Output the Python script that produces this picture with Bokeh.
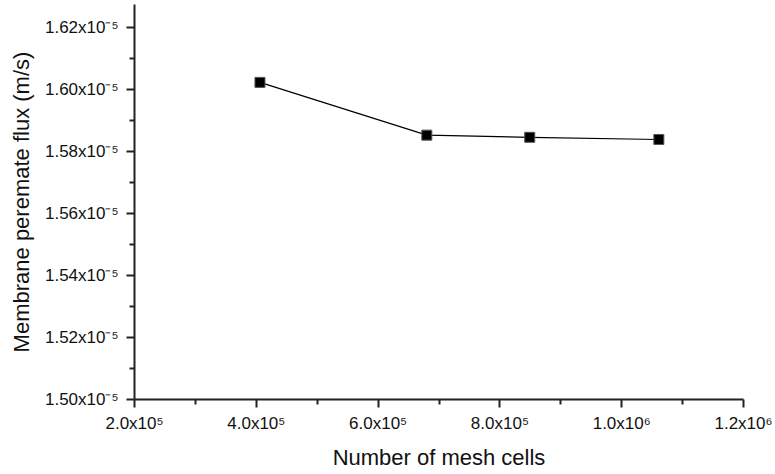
from bokeh.plotting import figure
from bokeh.models import Range1d, FixedTicker
from bokeh.embed import file_html
from bokeh.resources import INLINE

# ---- data ----
mesh_cells = [4.06e5, 6.80e5, 8.49e5, 1.061e6]
flux = [1.6022e-5, 1.5852e-5, 1.5845e-5, 1.5838e-5]

x_ticks = [2.0e5, 4.0e5, 6.0e5, 8.0e5, 1.0e6, 1.2e6]
x_tick_labels = ["2.0x10\u2075", "4.0x10\u2075", "6.0x10\u2075", "8.0x10\u2075",
                 "1.0x10\u2076", "1.2x10\u2076"]
y_ticks = [1.50e-5, 1.52e-5, 1.54e-5, 1.56e-5, 1.58e-5, 1.60e-5, 1.62e-5]
y_tick_labels = ["1.50x10\u207b\u2075", "1.52x10\u207b\u2075", "1.54x10\u207b\u2075",
                 "1.56x10\u207b\u2075", "1.58x10\u207b\u2075", "1.60x10\u207b\u2075",
                 "1.62x10\u207b\u2075"]

x_title = "Number of mesh cells"
y_title = "Membrane peremate flux (m/s)"

FONT = "Liberation Sans"

p = figure(width=775, height=474, output_backend="svg", toolbar_location=None,
           x_range=Range1d(2.0e5, 1.2e6), y_range=Range1d(1.50e-5, 1.6273e-5),
           min_border_left=134, min_border_right=32, min_border_top=4,
           min_border_bottom=75)
p.outline_line_color = None
p.xgrid.visible = False
p.ygrid.visible = False
p.background_fill_color = "white"
p.border_fill_color = "white"

x_minor = [(a + b) / 2 for a, b in zip(x_ticks[:-1], x_ticks[1:])]
y_minor = [(a + b) / 2 for a, b in zip(y_ticks[:-1], y_ticks[1:])]
p.xaxis.ticker = FixedTicker(ticks=x_ticks, minor_ticks=x_minor)
p.yaxis.ticker = FixedTicker(ticks=y_ticks, minor_ticks=y_minor)
p.xaxis.major_label_overrides = dict(zip(x_ticks, x_tick_labels))
p.yaxis.major_label_overrides = dict(zip(y_ticks, y_tick_labels))

for ax in (p.xaxis, p.yaxis):
    ax.axis_line_width = 2
    ax.axis_line_color = "#222222"
    ax.major_tick_line_width = 2
    ax.major_tick_line_color = "#222222"
    ax.minor_tick_line_width = 2
    ax.minor_tick_line_color = "#222222"
    ax.major_tick_in = 0
    ax.major_tick_out = 8
    ax.minor_tick_in = 0
    ax.minor_tick_out = 5
    ax.major_label_text_font = FONT
    ax.major_label_text_font_size = "17px"
    ax.major_label_text_color = "#111111"
    ax.axis_label_text_font = FONT
    ax.axis_label_text_font_size = "22px"
    ax.axis_label_text_font_style = "normal"
    ax.axis_label_text_color = "#111111"

p.xaxis.axis_label = x_title
p.yaxis.axis_label = y_title
p.xaxis.major_label_standoff = 6
p.yaxis.major_label_standoff = 8
p.xaxis.axis_label_standoff = 9
p.yaxis.axis_label_standoff = 8
p.yaxis.major_label_orientation = "horizontal"

p.line(mesh_cells, flux, line_color="black", line_width=1.2)
p.scatter(mesh_cells, flux, marker="square", size=10, fill_color="black",
          line_color="#555555", line_width=1)

open("out.html", "w").write(file_html(p, INLINE))
